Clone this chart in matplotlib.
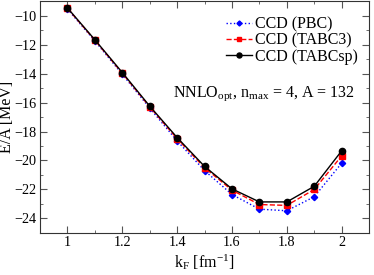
import numpy as np
import matplotlib.pyplot as plt
from matplotlib.ticker import MultipleLocator

plt.rcParams['font.family'] = ['Liberation Serif', 'DejaVu Serif']
plt.rcParams['mathtext.fontset'] = 'custom'
plt.rcParams['mathtext.rm'] = 'Liberation Serif'
plt.rcParams['mathtext.it'] = 'Liberation Serif'

kf = [1.0, 1.1, 1.2, 1.3, 1.4, 1.5, 1.6, 1.7, 1.8, 1.9, 2.0]
e_pbc = [-9.55, -11.75, -14.05, -16.38, -18.65, -20.7, -22.35, -23.36, -23.47, -22.5, -20.18]
e_tabc3 = [-9.5, -11.7, -13.98, -16.3, -18.5, -20.5, -22.05, -23.04, -23.1, -22.0, -19.68]
e_tabcsp = [-9.47, -11.67, -13.93, -16.25, -18.42, -20.41, -21.96, -22.86, -22.86, -21.78, -19.33]

fig = plt.figure(figsize=(3.74, 2.75), dpi=100)
ax = fig.add_axes([0.107, 0.153, 0.88, 0.843])

ax.plot(kf, e_pbc, color='blue', ls=':', lw=1, marker='D', ms=3.2, label='CCD (PBC)')
ax.plot(kf, e_tabc3, color='red', ls='--', lw=1, marker='s', ms=4, label='CCD (TABC3)')
ax.plot(kf, e_tabcsp, color='black', ls='-', lw=1, marker='o', ms=4.5, label='CCD (TABCsp)')

ax.set_xlim(0.9, 2.1)
ax.set_ylim(-25, -9)
ax.xaxis.set_major_locator(MultipleLocator(0.2))
ax.xaxis.set_minor_locator(MultipleLocator(0.1))
ax.yaxis.set_major_locator(MultipleLocator(2))
ax.yaxis.set_minor_locator(MultipleLocator(1))
ax.tick_params(which='both', direction='in', top=True, right=True, labelsize=10.2, color='#555555')
ax.tick_params(which='major', length=5, pad=2.5)
ax.tick_params(which='minor', length=2.5)
ax.set_xticks([1, 1.2, 1.4, 1.6, 1.8, 2])
ax.set_xticklabels(['1', '1.2', '1.4', '1.6', '1.8', '2'])
for s in ax.spines.values():
    s.set_color('#333333')

ax.set_xlabel(r'k$_\mathrm{F}$ [fm$^{-1}$]', fontsize=11.5, labelpad=2)
ax.set_ylabel('E/A [MeV]', fontsize=11.5)
ax.yaxis.set_label_coords(-0.077, 0.5)

ax.text(0.68, 0.60, r'NNLO$_\mathrm{opt}$, n$_\mathrm{max}$ = 4, A = 132', transform=ax.transAxes,
        ha='center', va='center', fontsize=11.5)

leg = ax.legend(loc='upper left', bbox_to_anchor=(0.565, 0.935), frameon=False, fontsize=11.5,
                handlelength=1.6, handletextpad=0.2, labelspacing=0.02, borderaxespad=0, borderpad=0,
                markerscale=0.8)

fig.savefig('out.png', dpi=100)
